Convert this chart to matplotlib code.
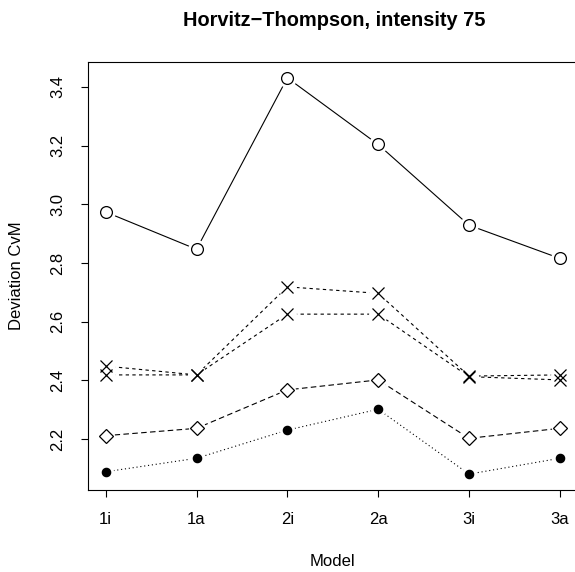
import numpy as np
from matplotlib import pyplot as plt

plt.rcParams['font.family'] = ['Liberation Sans', 'DejaVu Sans']

models = ['1i', '1a', '2i', '2a', '3i', '3a']

# deviation (CvM) per model, one list per estimator
circle_vals = [2.974, 2.847, 3.431, 3.204, 2.929, 2.816]
cross_hi_vals = [2.449, 2.419, 2.719, 2.697, 2.415, 2.419]
cross_lo_vals = [2.419, 2.419, 2.626, 2.626, 2.413, 2.402]
diamond_vals = [2.212, 2.237, 2.368, 2.402, 2.203, 2.237]
dot_vals = [2.089, 2.135, 2.231, 2.302, 2.081, 2.135]

title = 'Horvitz\u2212Thompson, intensity 75'
y_ticks = [2.2, 2.4, 2.6, 2.8, 3.0, 3.2, 3.4]


def draw_series(ax, x, y, marker, ms, dashes, filled=False, mew=0.9):
    # line first, then a white blob under each marker to leave a gap like type="b"
    line, = ax.plot(x, y, color='black', lw=0.8, zorder=2)
    if dashes is not None:
        line.set_dashes(dashes)
    ax.plot(x, y, ls='none', marker='o', ms=ms + 5, mfc='white', mec='none', zorder=3)
    ax.plot(x, y, ls='none', marker=marker, ms=ms, mec='black',
            mfc='black' if filled else 'none', mew=mew, zorder=4)


fig = plt.figure(figsize=(5.75, 5.72), dpi=100)
ax = fig.add_axes([0.1522, 0.1434, 0.8530, 0.7482])
x = np.arange(1, len(models) + 1)

draw_series(ax, x, circle_vals, 'o', 8.5, None)
draw_series(ax, x, cross_hi_vals, 'x', 8.6, (3, 3))
draw_series(ax, x, cross_lo_vals, 'x', 8.6, (3, 3))
draw_series(ax, x, diamond_vals, 'D', 7.2, (5, 3))
draw_series(ax, x, dot_vals, 'o', 6, (1, 2.5), filled=True)

all_vals = np.concatenate([circle_vals, cross_hi_vals, cross_lo_vals, diamond_vals, dot_vals])
lo, hi = all_vals.min(), all_vals.max()
pad = 0.04 * (hi - lo)
ax.set_ylim(lo - pad, hi + pad)
ax.set_xlim(0.8, 6.2)

ax.set_xticks(x)
ax.set_xticklabels(models)
ax.set_yticks(y_ticks)
ax.set_yticklabels(['%.1f' % v for v in y_ticks], rotation=90, va='center')
ax.tick_params(direction='out', length=5, width=0.8, labelsize=12, pad=11)

for s in ax.spines.values():
    s.set_linewidth(0.8)

ax.set_xlabel('Model', fontsize=12)
ax.set_ylabel('Deviation CvM', fontsize=12)
ax.xaxis.set_label_coords(0.5, -0.1675)
ax.xaxis.label.set_va('center')
ax.yaxis.set_label_coords(-0.1458, 0.5)
ax.yaxis.label.set_va('center')

fig.text(0.581, 1 - 21 / 572, title, ha='center', va='center',
         fontsize=14.4, fontweight='bold')

plt.savefig('out.png', dpi=100)
